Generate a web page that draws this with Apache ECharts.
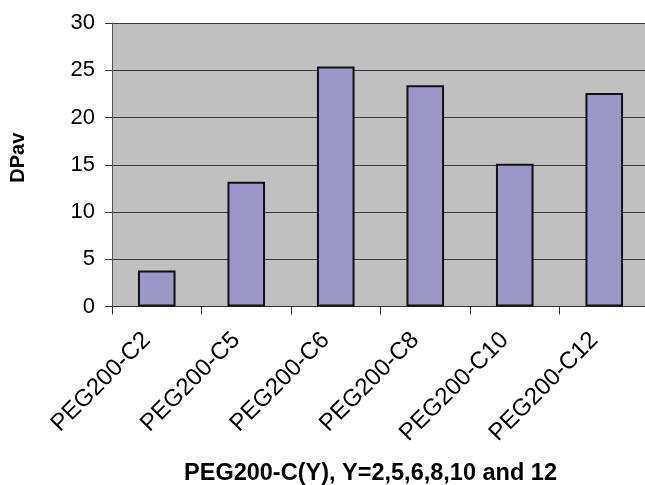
<!DOCTYPE html>
<html>
<head>
<meta charset="utf-8">
<script src="https://cdn.jsdelivr.net/npm/echarts@6/dist/echarts.min.js"></script>
<style>html,body{margin:0;padding:0;background:#fff}#c{width:645px;height:485px}</style>
</head>
<body>
<div id="c"></div>
<script>
const categories = ['PEG200-C2','PEG200-C5','PEG200-C6','PEG200-C8','PEG200-C10','PEG200-C12'];
const dpav = [3.8, 13.2, 25.4, 23.4, 15.1, 22.6];
const yTicks = [0, 5, 10, 15, 20, 25, 30];
const xTitle = 'PEG200-C(Y), Y=2,5,6,8,10 and 12';
const yTitle = 'DPav';

const chart = echarts.init(document.getElementById('c'), null, {renderer: 'canvas'});
const font = 'Liberation Sans, Arial, sans-serif';
chart.setOption({
  animation: false,
  backgroundColor: '#ffffff',
  textStyle: {fontFamily: font},
  grid: {left: 112, top: 23, width: 537, bottom: 178.5, show: true, backgroundColor: '#c0c0c0', borderWidth: 0,
         containLabel: false, outerBoundsMode: 'none'},
  xAxis: {
    type: 'category',
    data: categories,
    axisLine: {show: true, lineStyle: {color: '#333', width: 1}},
    axisTick: {show: true, alignWithLabel: false, length: 8, lineStyle: {color: '#333'}},
    axisLabel: {rotate: 45, fontSize: 24, color: '#000', margin: 20, padding: [0, 14, 0, 0], fontFamily: font, interval: 0},
    name: xTitle,
    nameLocation: 'middle',
    nameGap: 155,
    nameTextStyle: {fontSize: 23.5, fontWeight: 'bold', color: '#000', fontFamily: font, padding: [0, 20, 0, 0]}
  },
  yAxis: {
    type: 'value',
    min: yTicks[0],
    max: yTicks[yTicks.length - 1],
    interval: 5,
    axisLine: {show: true, lineStyle: {color: '#555', width: 1}},
    axisTick: {show: true, length: 7, lineStyle: {color: '#333'}},
    axisLabel: {fontSize: 22, color: '#000', margin: 17, fontFamily: font},
    splitLine: {show: true, lineStyle: {color: '#3a3a3a', width: 1}},
    name: yTitle,
    nameLocation: 'middle',
    nameGap: 70,
    nameRotate: 90,
    nameTextStyle: {fontSize: 20, fontWeight: 'bold', color: '#000', fontFamily: font, padding: [0, 0, 14, 14]}
  },
  series: [{
    type: 'bar',
    data: dpav,
    barCategoryGap: '58%',
    itemStyle: {color: '#9b97c9', borderColor: '#111', borderWidth: 2}
  }]
});
</script>
</body>
</html>
